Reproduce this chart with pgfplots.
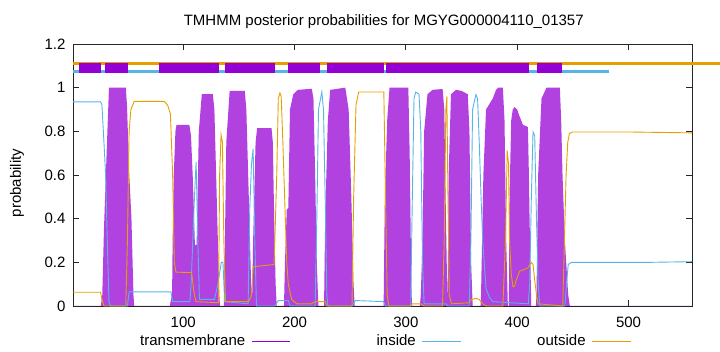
\documentclass[border=0pt]{standalone}
\usepackage{fontspec}
\setmainfont{Liberation Sans}
\usepackage{pgfplots}
\pgfplotsset{compat=1.18}
\definecolor{tmcol}{RGB}{148,0,211}
\definecolor{tmfill}{RGB}{178,66,224}
\definecolor{incol}{RGB}{86,180,233}
\definecolor{outcol}{RGB}{230,159,0}
\begin{document}
\begin{tikzpicture}[font=\fontsize{15}{18}\selectfont]
\useasboundingbox (0,0) rectangle (720pt,352pt);
\begin{axis}[
 at={(73pt,46pt)}, anchor=south west, scale only axis,
 width=619pt, height=262pt,
 xmin=1, xmax=557, ymin=0, ymax=1.2,
 xtick={100,200,300,400,500},
 ytick={0,0.2,0.4,0.6,0.8,1,1.2},
 tick align=inside, major tick length=6pt,
 axis line style={black!85, line width=0.8pt},
 tick style={black!85, line width=0.8pt},
 /pgf/number format/assume math mode=true,
 ticklabel style={font=\fontsize{15}{18}\selectfont},
 xticklabel style={yshift=-7pt},
 yticklabel style={xshift=-4pt},
 title={TMHMM posterior probabilities for MGYG000004110\_01357},
 title style={at={(axis description cs:0.502,1)}, anchor=center, yshift=16pt, font=\fontsize{15}{18}\selectfont},
 ylabel={probability},
 ylabel style={at={(axis description cs:-0.0905,0.47)}, anchor=center, font=\fontsize{15}{18}\selectfont},
 clip=false,
 legend columns=3,
 legend plot pos=right,
 legend style={at={(axis description cs:0.5036,-0.1336)}, anchor=center, draw=none, fill=none,
   font=\fontsize{15}{18}\selectfont, column sep=0pt, inner sep=0pt},
]
% transmembrane posterior (impulses, drawn as filled area)
\addplot[draw=none, fill=tmfill, forget plot]
 coordinates {
 (1,0) (26,0) (27.3,0.05) (28.8,0.35) (31.2,0.7) (33.3,1.0) (48.4,1.0) (49.5,0.92) (51.4,0.62) (53.5,0.4) (55.3,0.05) (56,0)
 (88,0) (89,0.03) (90,0.05) (90.5,0.3) (91.5,0.6) (93,0.8) (94,0.83) (105.5,0.83) (107,0.78) (108.5,0.6) (109.5,0.45) (110.5,0.28) (112,0.28)
 (112.5,0.4) (114,0.8) (116.7,0.97) (126.6,0.97) (128,0.9) (130.6,0.4) (132.5,0.05) (133,0)
 (136.5,0) (137.2,0.2) (138.7,0.75) (141.7,0.985) (155.3,0.985) (156.7,0.9) (158.9,0.5) (161,0.1) (162,0.05)
 (162.8,0.3) (165,0.75) (166.4,0.815) (179.3,0.815) (180.5,0.75) (181.7,0.4) (183,0.1) (184,0)
 (190.5,0) (191.4,0.2) (193,0.44) (194.4,0.45) (195.9,0.9) (198.9,0.97) (203,0.99) (215.5,0.995) (217,0.95) (218.5,0.6) (220,0.2) (221,0.05) (221.5,0)
 (226.5,0) (227.5,0.4) (229.9,0.85) (232,0.99) (245.6,1.0) (248.6,0.9) (251,0.5) (253,0.1) (254,0)
 (280,0) (281.1,0.5) (283.2,0.85) (285.3,1.0) (302.2,1.0) (303.4,0.7) (304.9,0.1) (305.5,0)
 (312.5,0) (313.4,0.05) (314.9,0.3) (316.4,0.8) (319.4,0.97) (324,0.99) (333,0.994) (334.5,0.9) (336,0.4) (337.2,0.05)
 (337.5,0.05) (338.4,0.6) (340.5,0.97) (345,0.99) (350,0.985) (355.6,0.97) (357.1,0.8) (358.6,0.2) (360,0)
 (367,0) (367.5,0.05) (369.6,0.6) (372,0.9) (378,0.95) (381,0.99) (383,1.0) (387.1,1.0) (388.6,0.85) (390.1,0.3) (391.6,0)
 (392.5,0) (393.1,0.5) (394.6,0.85) (396,0.9) (397.6,0.911) (400,0.9) (402,0.87) (405.1,0.83) (409.6,0.82) (410.5,0.6) (411.1,0.4) (412.6,0)
 (416.8,0) (417.3,0.05) (418.8,0.6) (421.8,0.95) (426.3,1.0) (438.3,1.0) (439.5,0.85) (440.7,0.6) (442.8,0.3) (445.8,0.05) (447.3,0)
 (557,0)
 } \closedcycle;
% inside
\addplot[incol, line width=0.9pt, forget plot]
 coordinates {
 (1,0.935) (25.8,0.935) (27,0.92) (28.8,0.75) (30.3,0.6) (31.8,0.3) (33.3,0.02) (34.8,0) (49.9,0) (51.4,0.065) (89,0.065) (90.5,0.02) (106,0.02)
 (107.1,0.1) (110.1,0.5) (111.6,0.66) (113.1,0.3) (114.6,0.03) (128.1,0.03) (131.2,0.1) (134.2,0.2) (135.7,0.2) (137.2,0.02) (158.3,0.01)
 (159.8,0.45) (161.3,0.65) (162.8,0.72) (164.3,0.3) (165.8,0.0) (182.3,0) (185.4,0.025) (194.4,0.025) (195.9,0) (218.5,0) (220,0.4)
 (221.5,0.9) (224.5,0.98) (226,0.9) (227.5,0.5) (229,0.05) (230,0) (251.6,0) (254.6,0.025) (280,0.02) (281.7,0) (304.3,0) (305.8,0.5)
 (307.3,0.95) (308.8,0.98) (311.8,0.97) (313.4,0.8) (314.9,0.2) (316.4,0.01) (336,0.01) (337.5,0) (356.9,0) (358.4,0.3) (359.9,0.9)
 (362.9,0.968) (364.4,0.95) (365.9,0.75) (367.5,0.5) (369,0.3) (372,0.08) (375,0.04) (378,0.02) (410,0.01) (411.2,0.1) (412.7,0.5)
 (414.2,0.797) (415.7,0.78) (417.3,0.4) (418.8,0.1) (420.3,0) (442.8,0) (444.3,0.1) (445.8,0.19) (448.8,0.2) (520,0.2) (557,0.203)
 };
% outside
\addplot[outcol, line width=0.9pt, forget plot]
 coordinates {
 (1,0.063) (25.8,0.063) (27,0.03) (28.8,0) (48.4,0) (49.9,0.3) (51.4,0.8) (53,0.9) (56,0.937) (83,0.937) (86,0.92) (88.5,0.88) (90.5,0.6)
 (92,0.2) (93.5,0.155) (107.5,0.153) (110,0.05) (111.6,0.02) (131.7,0.015) (132.7,0.6) (134,0.784) (135.2,0.75) (136.5,0.3) (138,0.02)
 (158.3,0.02) (159.8,0.03) (161.3,0.05) (162.8,0.18) (181.5,0.19) (182.3,0.3) (184,0.6) (185.4,0.95) (186.9,0.976) (188,0.96) (189.5,0.75)
 (191.4,0.45) (193,0.2) (194.4,0.1) (197.4,0.03) (202,0.01) (215,0.01) (218.5,0.02) (227.5,0.02) (229,0) (251.6,0) (253.1,0.5) (255.2,0.92)
 (257.6,0.98) (280.2,0.98) (281.7,0.5) (283.2,0.05) (284.7,0) (304.3,0) (305.8,0.01) (313.4,0.01) (316.4,0) (332.9,0) (334.4,0.3)
 (335.9,0.9) (336.8,0.96) (337.8,0.5) (339,0.05) (341,0.01) (356.9,0.015) (358.4,0.028) (362.9,0.035) (365.9,0.03) (369,0.01) (372,0)
 (387.1,0) (389.5,0.3) (391,0.712) (392.2,0.65) (393.1,0.3) (394.6,0.15) (396.1,0.089) (397.6,0.09) (399.2,0.12) (402.2,0.16) (405.2,0.165)
 (409.7,0.175) (412.7,0.2) (414.2,0.19) (415.7,0.12) (417.3,0.05) (418.8,0.01) (440.9,0) (442.4,0.3) (443.9,0.6) (445.4,0.75) (446.9,0.79)
 (449.9,0.797) (500,0.797) (557,0.793)
 };
% topology band at the top
\addplot[outcol, line width=3.5pt, forget plot] coordinates {(1,1.11) (583,1.11)};
\addplot[incol, line width=3pt, forget plot] coordinates {(1,1.072) (482.6,1.072)};
\addplot[fill=tmcol, draw=none, forget plot] coordinates {(6.5,1.069) (26.5,1.069) (26.5,1.115) (6.5,1.115)} -- cycle;
\addplot[fill=tmcol, draw=none, forget plot] coordinates {(29.5,1.069) (50,1.069) (50,1.115) (29.5,1.115)} -- cycle;
\addplot[fill=tmcol, draw=none, forget plot] coordinates {(77.9,1.069) (132,1.069) (132,1.115) (77.9,1.115)} -- cycle;
\addplot[fill=tmcol, draw=none, forget plot] coordinates {(137.5,1.069) (182.7,1.069) (182.7,1.115) (137.5,1.115)} -- cycle;
\addplot[fill=tmcol, draw=none, forget plot] coordinates {(194.4,1.069) (223.3,1.069) (223.3,1.115) (194.4,1.115)} -- cycle;
\addplot[fill=tmcol, draw=none, forget plot] coordinates {(228.7,1.069) (280.1,1.069) (280.1,1.115) (228.7,1.115)} -- cycle;
\addplot[fill=tmcol, draw=none, forget plot] coordinates {(282,1.069) (410.3,1.069) (410.3,1.115) (282,1.115)} -- cycle;
\addplot[fill=tmcol, draw=none, forget plot] coordinates {(417.5,1.069) (440.1,1.069) (440.1,1.115) (417.5,1.115)} -- cycle;
% legend (gnuplot style: text, then sample line)
\addlegendimage{legend image code/.code={\draw[draw=none] (0pt,0pt) -- (127.4pt,0pt); \draw[tmcol, line width=0.9pt] (5.2pt,0pt) -- (43.2pt,0pt);}}
\addlegendentry{transmembrane}
\addlegendimage{legend image code/.code={\draw[draw=none] (0pt,0pt) -- (117.4pt,0pt); \draw[incol, line width=0.9pt] (4.2pt,0pt) -- (43.2pt,0pt);}}
\addlegendentry{inside}
\addlegendimage{legend image code/.code={\draw[draw=none] (0pt,0pt) -- (43.2pt,0pt); \draw[outcol, line width=0.9pt] (4.2pt,0pt) -- (43.2pt,0pt);}}
\addlegendentry{outside}
\end{axis}
\end{tikzpicture}
\end{document}
